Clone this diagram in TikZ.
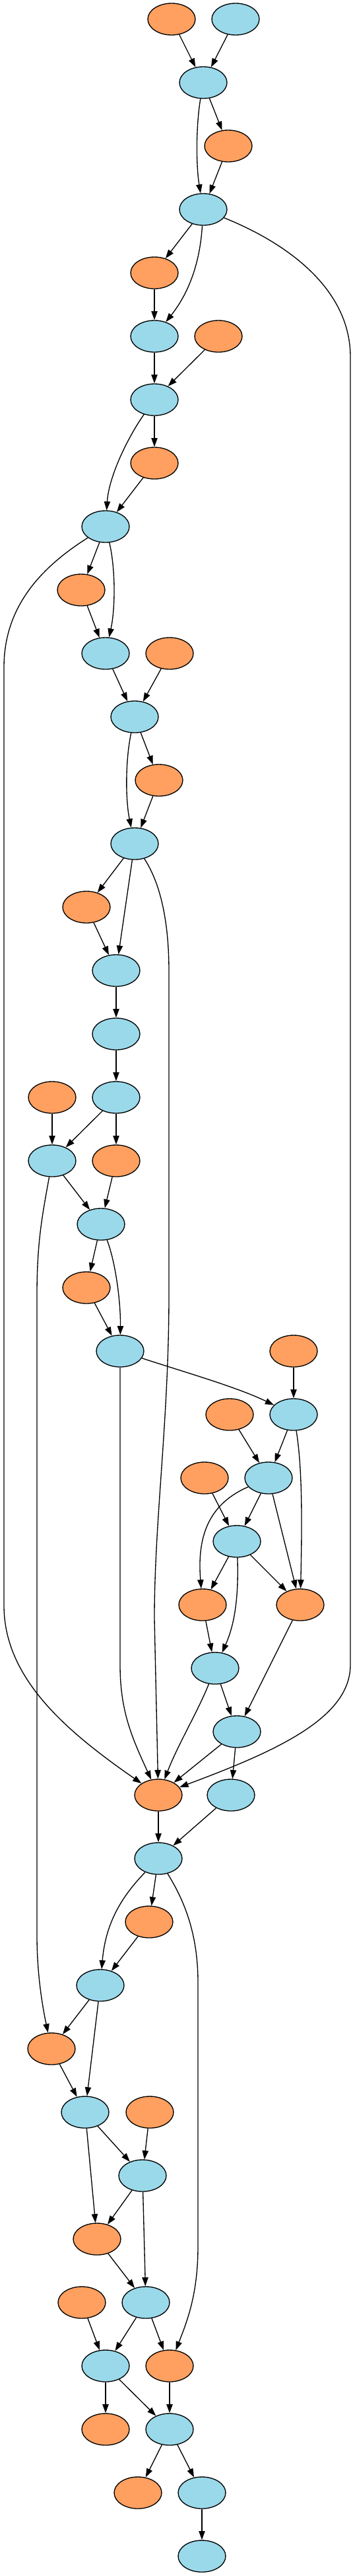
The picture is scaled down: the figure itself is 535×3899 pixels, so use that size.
\documentclass[tikz,border=0pt]{standalone}
\usetikzlibrary{shapes.geometric,arrows.meta}
\definecolor{nblue}{RGB}{154,217,234}
\definecolor{norange}{RGB}{255,160,96}
\begin{document}
\begin{tikzpicture}[x=0.75pt,y=-0.75pt,
  nd/.style={ellipse,draw=black,line width=1pt,minimum width=54pt,minimum height=36pt,inner sep=0pt},
  bnode/.style={nd,fill=nblue},
  onode/.style={nd,fill=norange},
  edge/.style={draw=black,line width=1pt,-{Triangle[length=10pt,width=7pt]}}]
\useasboundingbox (0,0) rectangle (535,3899);
% nodes
\node[onode] (oA) at (260,29) {};
\node[bnode] (bA) at (357,29) {};
\node[bnode] (b1) at (308,125) {};
\node[onode] (o2) at (346,221) {};
\node[bnode] (b3) at (308,317) {};
\node[onode] (o4) at (234,413) {};
\node[bnode] (b5) at (234,509) {};
\node[onode] (o5) at (331,509) {};
\node[bnode] (b6) at (234,605) {};
\node[onode] (o7) at (234,701) {};
\node[bnode] (b8) at (160,797) {};
\node[onode] (o9) at (123,893) {};
\node[bnode] (b10) at (160,989) {};
\node[onode] (o10) at (257,989) {};
\node[bnode] (b11) at (204,1085) {};
\node[onode] (o12) at (241,1181) {};
\node[bnode] (b13) at (204,1277) {};
\node[onode] (o14) at (131,1373) {};
\node[bnode] (b15) at (176,1469) {};
\node[bnode] (b16) at (176,1565) {};
\node[onode] (o17) at (79,1661) {};
\node[bnode] (b17) at (176,1661) {};
\node[bnode] (b18) at (79,1757) {};
\node[onode] (o18) at (176,1757) {};
\node[bnode] (b19) at (153,1853) {};
\node[onode] (o20) at (131,1949) {};
\node[bnode] (b21) at (182,2045) {};
\node[onode] (o21) at (445,2045) {};
\node[onode] (o22) at (348,2141) {};
\node[bnode] (b22) at (445,2141) {};
\node[onode] (o23) at (310,2237) {};
\node[bnode] (b23) at (407,2237) {};
\node[bnode] (b24) at (359,2333) {};
\node[onode] (o25) at (307,2429) {};
\node[onode] (o25r) at (455,2429) {};
\node[bnode] (b26) at (326,2525) {};
\node[bnode] (b27) at (359,2621) {};
\node[onode] (o28) at (240,2717) {};
\node[bnode] (b28) at (350,2717) {};
\node[bnode] (b29) at (240,2813) {};
\node[onode] (o30) at (226,2909) {};
\node[bnode] (b31) at (152,3005) {};
\node[onode] (o32) at (78,3101) {};
\node[bnode] (b33) at (129,3197) {};
\node[onode] (o33) at (227,3197) {};
\node[bnode] (b34) at (216,3293) {};
\node[onode] (o35) at (147,3389) {};
\node[onode] (o36) at (124,3485) {};
\node[bnode] (b36) at (221,3485) {};
\node[bnode] (b37) at (160,3581) {};
\node[onode] (o37) at (257,3581) {};
\node[onode] (o38) at (160,3677) {};
\node[bnode] (b38) at (257,3677) {};
\node[onode] (o39) at (209,3773) {};
\node[bnode] (b39) at (306,3773) {};
\node[bnode] (b40) at (306,3869) {};
% edges
\draw[edge] (oA) -- (b1);
\draw[edge] (bA) -- (b1);
\draw[edge] (b1) -- (o2);
\draw[edge] (b1) .. controls (297,190) and (297,250) .. (b3);
\draw[edge] (o2) -- (b3);
\draw[edge] (b3) -- (o4);
\draw[edge] (b3) .. controls (303,400) and (285,445) .. (b5);
\draw[edge] (b3) .. controls (440,370) and (531,440) .. (531,540) -- (531,2520) .. controls (531,2600) and (420,2650) .. (o28);
\draw[edge] (o4) -- (b5);
\draw[edge] (b5) -- (b6);
\draw[edge] (o5) -- (b6);
\draw[edge] (b6) -- (o7);
\draw[edge] (b6) .. controls (195,660) and (165,720) .. (b8);
\draw[edge] (o7) -- (b8);
\draw[edge] (b8) -- (o9);
\draw[edge] (b8) .. controls (175,860) and (175,920) .. (b10);
\draw[edge] (b8) .. controls (60,860) and (6,920) .. (6,1010) -- (6,2430) .. controls (6,2540) and (100,2620) .. (o28);
\draw[edge] (o9) -- (b10);
\draw[edge] (b10) -- (b11);
\draw[edge] (o10) -- (b11);
\draw[edge] (b11) -- (o12);
\draw[edge] (b11) .. controls (190,1150) and (190,1210) .. (b13);
\draw[edge] (o12) -- (b13);
\draw[edge] (b13) -- (o14);
\draw[edge] (b13) -- (b15);
\draw[edge] (b13) .. controls (245,1340) and (256,1400) .. (256,1470) -- (256,1960) .. controls (256,2150) and (234,2300) .. (234,2450) -- (o28);
\draw[edge] (o14) -- (b15);
\draw[edge] (b15) -- (b16);
\draw[edge] (b16) -- (b17);
\draw[edge] (o17) -- (b18);
\draw[edge] (b17) -- (b18);
\draw[edge] (b17) -- (o18);
\draw[edge] (b18) -- (b19);
\draw[edge] (o18) -- (b19);
\draw[edge] (b18) .. controls (64,1840) and (56,1880) .. (56,1960) -- (56,2930) .. controls (56,2990) and (65,3040) .. (o32);
\draw[edge] (b19) -- (o20);
\draw[edge] (b19) .. controls (175,1910) and (183,1970) .. (b21);
\draw[edge] (o20) -- (b21);
\draw[edge] (b21) .. controls (290,2080) and (360,2100) .. (b22);
\draw[edge] (b21) -- (182,2520) .. controls (182,2590) and (200,2630) .. (o28);
\draw[edge] (o21) -- (b22);
\draw[edge] (o22) -- (b23);
\draw[edge] (b22) -- (b23);
\draw[edge] (b22) .. controls (458,2220) and (458,2300) .. (o25r);
\draw[edge] (b23) .. controls (320,2275) and (298,2320) .. (o25);
\draw[edge] (o23) -- (b24);
\draw[edge] (b23) -- (b24);
\draw[edge] (b23) -- (o25r);
\draw[edge] (b24) -- (o25);
\draw[edge] (b24) -- (o25r);
\draw[edge] (b24) .. controls (362,2420) and (355,2460) .. (b26);
\draw[edge] (o25) -- (b26);
\draw[edge] (b26) -- (b27);
\draw[edge] (o25r) -- (b27);
\draw[edge] (b26) .. controls (300,2590) and (270,2640) .. (o28);
\draw[edge] (b27) -- (o28);
\draw[edge] (b27) -- (b28);
\draw[edge] (o28) -- (b29);
\draw[edge] (b28) -- (b29);
\draw[edge] (b29) -- (o30);
\draw[edge] (b29) .. controls (185,2870) and (160,2910) .. (b31);
\draw[edge] (b29) .. controls (275,2870) and (300,2920) .. (300,3000) -- (300,3400) .. controls (300,3470) and (285,3510) .. (o37);
\draw[edge] (o30) -- (b31);
\draw[edge] (b31) -- (o32);
\draw[edge] (b31) -- (b33);
\draw[edge] (o32) -- (b33);
\draw[edge] (b33) -- (b34);
\draw[edge] (o33) -- (b34);
\draw[edge] (b33) -- (o35);
\draw[edge] (b34) -- (o35);
\draw[edge] (b34) -- (b36);
\draw[edge] (o35) -- (b36);
\draw[edge] (o36) -- (b37);
\draw[edge] (b36) -- (b37);
\draw[edge] (b36) -- (o37);
\draw[edge] (b37) -- (o38);
\draw[edge] (b37) -- (b38);
\draw[edge] (o37) -- (b38);
\draw[edge] (b38) -- (o39);
\draw[edge] (b38) -- (b39);
\draw[edge] (b39) -- (b40);
\end{tikzpicture}
\end{document}
